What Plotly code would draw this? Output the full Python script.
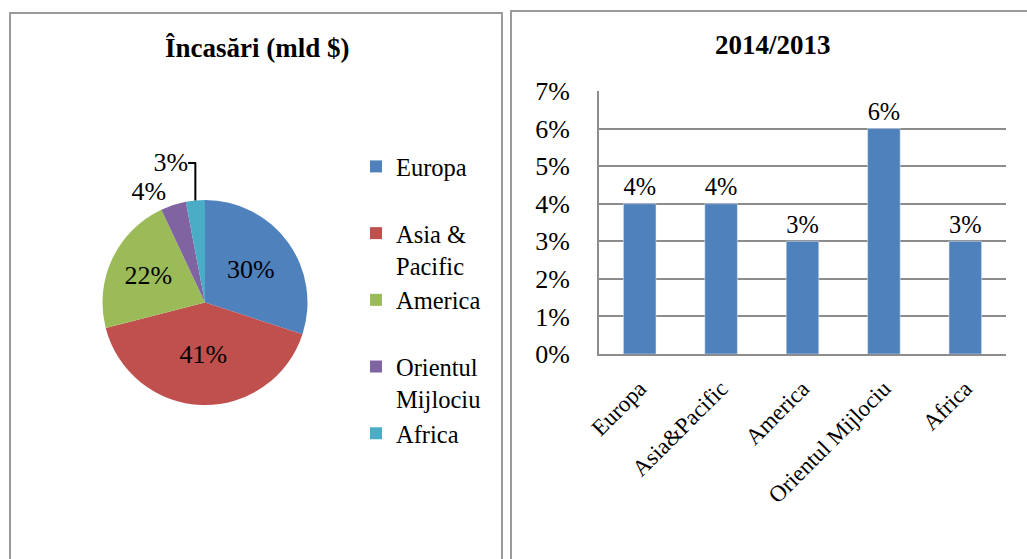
import plotly.graph_objects as go

W, H = 1027, 559

# ---- data ----
pie_labels = ["Europa", "Asia &<br>Pacific", "America", "Orientul<br>Mijlociu", "Africa"]
pie_values = [30, 41, 22, 4, 3]
pie_colors = ["#4F81BD", "#C0504D", "#9BBB59", "#8064A2", "#4BACC6"]

bar_categories = ["Europa", "Asia&Pacific", "America", "Orientul Mijlociu", "Africa"]
bar_values = [0.04, 0.04, 0.03, 0.06, 0.03]
y_ticks = [0, 0.01, 0.02, 0.03, 0.04, 0.05, 0.06, 0.07]

FONT = "Liberation Serif"

def fx(px):
    return px / W

def fy(py):
    return 1 - py / H

# pad single-line legend entries to two lines so entries are evenly spaced
legend_names = [l if "<br>" in l else l + "<br>\u00a0" for l in pie_labels]
legend_names[-1] = pie_labels[-1]

fig = go.Figure()

fig.add_trace(go.Pie(
    labels=legend_names,
    values=pie_values,
    marker=dict(colors=pie_colors, line=dict(color="white", width=0)),
    sort=False,
    direction="clockwise",
    rotation=0,
    textinfo="percent",
    texttemplate="%{percent:.0%}",
    textposition=["inside", "inside", "inside", "outside", "outside"],
    insidetextorientation="horizontal",
    insidetextfont=dict(family=FONT, size=26, color="black"),
    outsidetextfont=dict(family=FONT, size=26, color="black"),
    domain=dict(x=[fx(95), fx(315)], y=[fy(405), fy(200)]),
    showlegend=True,
    hoverinfo="label+percent",
))

fig.add_trace(go.Bar(
    x=bar_categories,
    y=bar_values,
    marker=dict(color="#4F81BD"),
    texttemplate="%{y:.0%}",
    textposition="outside",
    textfont=dict(family=FONT, size=26, color="black"),
    cliponaxis=False,
    showlegend=False,
    xaxis="x",
    yaxis="y",
))

fig.update_layout(
    width=W, height=H,
    margin=dict(l=0, r=0, t=0, b=0, autoexpand=False),
    paper_bgcolor="white",
    plot_bgcolor="white",
    font=dict(family=FONT, size=24, color="black"),
    bargap=0.6,
    xaxis=dict(
        domain=[fx(599), fx(1006)],
        anchor="y",
        showline=True, linecolor="#8c8c8c", linewidth=2,
        showgrid=False, ticks="",
        tickangle=-45,
        tickfont=dict(family=FONT, size=23),
        ticklabelstandoff=10,
        automargin=False,
    ),
    yaxis=dict(
        domain=[fy(354), fy(91)],
        anchor="x",
        range=[0, 0.07],
        tickvals=y_ticks,
        tickformat=".0%",
        showline=True, linecolor="#8c8c8c", linewidth=2,
        showgrid=True, gridcolor="#8c8c8c", gridwidth=2,
        zeroline=False, ticks="",
        tickfont=dict(family=FONT, size=26),
        ticklabelstandoff=22,
        automargin=False,
    ),
    legend=dict(
        x=fx(356), y=fy(144), xanchor="left", yanchor="top",
        font=dict(family=FONT, size=24.5, color="black"),
        valign="top",
        bgcolor="rgba(0,0,0,0)",
        itemclick=False, itemdoubleclick=False,
    ),
    annotations=[
        dict(text="<b>Încasări (mld $)</b>", x=fx(257), y=fy(48), xref="paper", yref="paper",
             showarrow=False, font=dict(family=FONT, size=27, color="black"),
             xanchor="center", yanchor="middle"),
        dict(text="<b>2014/2013</b>", x=fx(773), y=fy(45), xref="paper", yref="paper",
             showarrow=False, font=dict(family=FONT, size=27, color="black"),
             xanchor="center", yanchor="middle"),
    ],
    shapes=[
        dict(type="rect", xref="paper", yref="paper",
             x0=fx(10), x1=fx(502), y0=-0.05, y1=fy(13),
             line=dict(color="#9a9a9a", width=2), layer="below"),
        dict(type="rect", xref="paper", yref="paper",
             x0=fx(511), x1=1.05, y0=-0.05, y1=fy(11),
             line=dict(color="#9a9a9a", width=2), layer="below"),
    ],
)

fig.write_html(
    "out.html",
    config={"displayModeBar": False},
    post_script="document.body.style.margin='0';document.body.style.overflow='hidden';",
)
